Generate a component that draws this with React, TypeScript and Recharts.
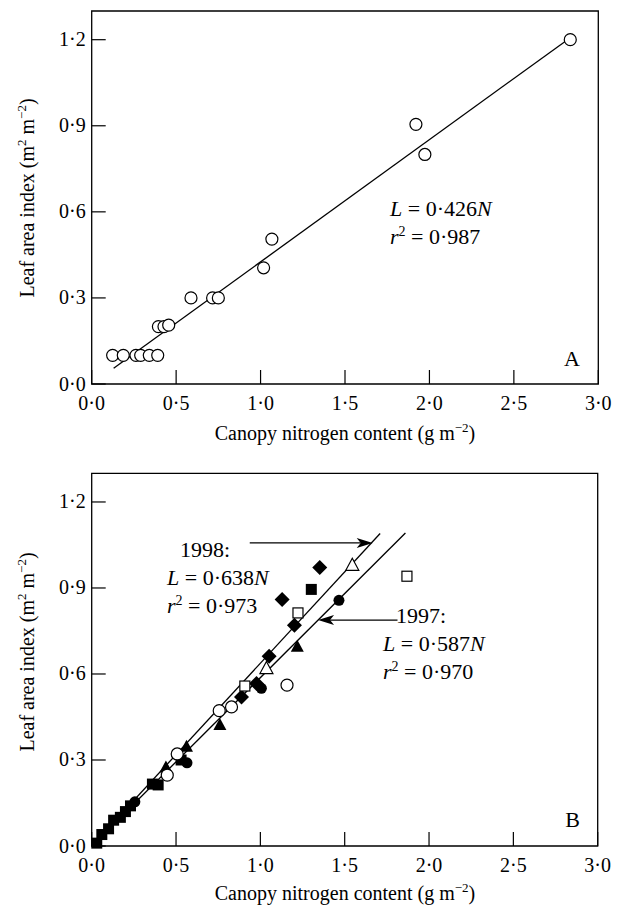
import { ScatterChart, Scatter, XAxis, YAxis, ReferenceLine, ReferenceArea } from 'recharts';

// Canopy nitrogen content (n, g m-2) vs leaf area index (l, m2 m-2)
const panelA = [
  { n: 0.124, l: 0.1 }, { n: 0.187, l: 0.1 }, { n: 0.262, l: 0.1 }, { n: 0.29, l: 0.1 },
  { n: 0.341, l: 0.1 }, { n: 0.391, l: 0.1 },
  { n: 0.395, l: 0.2 }, { n: 0.428, l: 0.2 }, { n: 0.456, l: 0.205 },
  { n: 0.588, l: 0.3 }, { n: 0.716, l: 0.3 }, { n: 0.75, l: 0.3 },
  { n: 1.018, l: 0.405 }, { n: 1.067, l: 0.505 },
  { n: 1.92, l: 0.905 }, { n: 1.973, l: 0.8 }, { n: 2.834, l: 1.2 },
];
const fitA = [{ n: 0.13, l: 0.055 }, { n: 2.82, l: 1.201 }];

const bFilledDiamond = [
  { n: 1.352, l: 0.971 }, { n: 1.129, l: 0.86 }, { n: 1.202, l: 0.77 },
  { n: 1.052, l: 0.662 }, { n: 0.977, l: 0.567 }, { n: 0.888, l: 0.52 },
];
const bFilledSquare = [
  { n: 1.302, l: 0.895 }, { n: 0.53, l: 0.3 }, { n: 0.36, l: 0.216 }, { n: 0.394, l: 0.213 },
  { n: 0.03, l: 0.01 }, { n: 0.06, l: 0.04 }, { n: 0.1, l: 0.06 }, { n: 0.13, l: 0.09 },
  { n: 0.17, l: 0.1 }, { n: 0.2, l: 0.12 }, { n: 0.23, l: 0.14 },
];
const bFilledCircle = [
  { n: 1.466, l: 0.857 }, { n: 1.006, l: 0.55 }, { n: 0.565, l: 0.29 }, { n: 0.256, l: 0.154 },
];
const bFilledTriangle = [
  { n: 1.219, l: 0.695 }, { n: 0.76, l: 0.422 }, { n: 0.562, l: 0.346 }, { n: 0.44, l: 0.274 },
];
const bOpenCircle = [
  { n: 1.158, l: 0.561 }, { n: 0.756, l: 0.472 }, { n: 0.829, l: 0.485 },
  { n: 0.507, l: 0.321 }, { n: 0.448, l: 0.247 },
];
const bOpenSquare = [{ n: 1.869, l: 0.941 }, { n: 1.223, l: 0.813 }, { n: 0.908, l: 0.558 }];
const bOpenTriangle = [{ n: 1.545, l: 0.979 }, { n: 1.036, l: 0.619 }];

const fit1998 = [{ n: 0, l: 0 }, { n: 1.71, l: 1.09 }];
const fit1997 = [{ n: 0, l: 0 }, { n: 1.86, l: 1.092 }];
const arrow1998 = [{ n: 0.937, l: 1.057 }, { n: 1.666, l: 1.057 }];
const arrow1997 = [{ n: 1.813, l: 0.788 }, { n: 1.342, l: 0.788 }];

const xTicks = [0, 0.5, 1, 1.5, 2, 2.5, 3];
const yTicks = [0, 0.3, 0.6, 0.9, 1.2];

const FONT = '"Liberation Serif", "Times New Roman", serif';
const fmt = (v: number) => v.toFixed(1).replace('.', '\u00b7');

const BottomTick = (p: any) => (
  <g>
    <line x1={p.x} x2={p.x} y1={p.y} y2={p.y - 14} stroke="#000" strokeWidth={1.2} />
    <text x={p.x} y={p.y + 26} textAnchor="middle" fontFamily={FONT} fontSize={20} fill="#000">
      {fmt(p.payload.value)}
    </text>
  </g>
);
const LeftTick = (p: any) => (
  <g>
    <line x1={p.x} x2={p.x + 14} y1={p.y} y2={p.y} stroke="#000" strokeWidth={1.2} />
    <text x={p.x - 6} y={p.y + 6.5} textAnchor="end" fontFamily={FONT} fontSize={20} fill="#000">
      {fmt(p.payload.value)}
    </text>
  </g>
);

const OpenCircle = (p: any) => <circle cx={p.cx} cy={p.cy} r={6} fill="#fff" stroke="#000" strokeWidth={1.2} />;
const FilledCircle = (p: any) => <circle cx={p.cx} cy={p.cy} r={5.5} fill="#000" />;
const FilledSquare = (p: any) => <rect x={p.cx - 5.5} y={p.cy - 5.5} width={11} height={11} fill="#000" />;
const OpenSquare = (p: any) => (
  <rect x={p.cx - 5} y={p.cy - 5} width={10} height={10} fill="#fff" stroke="#000" strokeWidth={1.2} />
);
const FilledDiamond = (p: any) => (
  <polygon points={`${p.cx},${p.cy - 7.5} ${p.cx + 7.5},${p.cy} ${p.cx},${p.cy + 7.5} ${p.cx - 7.5},${p.cy}`} fill="#000" />
);
const triPts = (p: any) => `${p.cx},${p.cy - 7} ${p.cx + 6.5},${p.cy + 5} ${p.cx - 6.5},${p.cy + 5}`;
const FilledTriangle = (p: any) => <polygon points={triPts(p)} fill="#000" />;
const OpenTriangle = (p: any) => <polygon points={triPts(p)} fill="#fff" stroke="#000" strokeWidth={1.2} />;

const Arrow = (p: any) => {
  const { x1, y1, x2, y2 } = p;
  const a = Math.atan2(y2 - y1, x2 - x1);
  const bx = x2 - 16 * Math.cos(a);
  const by = y2 - 16 * Math.sin(a);
  const mx = x2 - 12 * Math.cos(a);
  const my = y2 - 12 * Math.sin(a);
  const px = -Math.sin(a) * 5;
  const py = Math.cos(a) * 5;
  return (
    <g>
      <line x1={x1} y1={y1} x2={mx} y2={my} stroke="#000" strokeWidth={1.3} />
      <polygon points={`${x2},${y2} ${bx + px},${by + py} ${mx},${my} ${bx - px},${by - py}`} fill="#000" />
    </g>
  );
};

const seg = (pts: { n: number; l: number }[]) => pts.map((d) => ({ x: d.n, y: d.l }));

const txt = { fontFamily: FONT, fill: '#000' };

const Equation = ({ x, y, name, val, r2 }: { x: number; y: number; name?: string; val: string; r2: string }) => (
  <g {...txt} fontSize={22}>
    {name && (
      <text x={x + 13} y={y - 28}>
        {name}
      </text>
    )}
    <text x={x} y={y}>
      <tspan fontStyle="italic">L</tspan> = {val}
      <tspan fontStyle="italic">N</tspan>
    </text>
    <text x={x} y={y + 28}>
      <tspan fontStyle="italic">r</tspan>
      <tspan dy={-8} fontSize={14}>2</tspan>
      <tspan dy={8}> = {r2}</tspan>
    </text>
  </g>
);

const Titles = ({ h }: { h: number }) => (
  <g {...txt} fontSize={20}>
    <text x={345} y={h} textAnchor="middle">
      Canopy nitrogen content (g m<tspan dy={-8} fontSize={13}>{'\u22122'}</tspan>
      <tspan dy={8}>)</tspan>
    </text>
    <text x={34} y={198} textAnchor="middle" transform="rotate(-90, 34, 198)">
      Leaf area index (m<tspan dy={-8} fontSize={13}>2</tspan>
      <tspan dy={8}> m</tspan>
      <tspan dy={-8} fontSize={13}>{'\u22122'}</tspan>
      <tspan dy={8}>)</tspan>
    </text>
  </g>
);

export default function App() {
  return (
    <div style={{ position: 'absolute', left: 0, top: 0, width: 620, height: 907, background: '#fff' }}>
      <ScatterChart width={620} height={454} margin={{ top: 11, right: 21.7, bottom: 0, left: 0 }}>
        <XAxis type="number" dataKey="n" domain={[0, 3]} ticks={xTicks} axisLine={false} tickLine={false}
          tickSize={0} tickMargin={0} tick={<BottomTick />} interval={0} height={70} />
        <YAxis type="number" dataKey="l" domain={[0, 1.3]} ticks={yTicks} axisLine={false} tickLine={false}
          tickSize={0} tickMargin={0} tick={<LeftTick />} interval={0} width={91.7} />
        <ReferenceArea x1={0} x2={3} y1={0} y2={1.3} fill="none" stroke="#000" strokeWidth={1.3} />
        <ReferenceLine segment={seg(fitA)} stroke="#000" strokeWidth={1.3} />
        <Scatter data={panelA} shape={<OpenCircle />} isAnimationActive={false} />
        <Equation x={390} y={216} val={'0\u00b7426'} r2={'0\u00b7987'} />
        <text {...txt} fontSize={22} x={580} y={366} textAnchor="end">A</text>
        <Titles h={440} />
      </ScatterChart>
      <ScatterChart width={620} height={453} margin={{ top: 19.3, right: 22.3, bottom: 0, left: 0 }}>
        <XAxis type="number" dataKey="n" domain={[0, 3]} ticks={xTicks} axisLine={false} tickLine={false}
          tickSize={0} tickMargin={0} tick={<BottomTick />} interval={0} height={61} />
        <YAxis type="number" dataKey="l" domain={[0, 1.3]} ticks={yTicks} axisLine={false} tickLine={false}
          tickSize={0} tickMargin={0} tick={<LeftTick />} interval={0} width={91.7} />
        <ReferenceArea x1={0} x2={3} y1={0} y2={1.3} fill="none" stroke="#000" strokeWidth={1.3} />
        <ReferenceLine segment={seg(fit1998)} stroke="#000" strokeWidth={1.3} />
        <ReferenceLine segment={seg(fit1997)} stroke="#000" strokeWidth={1.3} />
        <ReferenceLine segment={seg(arrow1998)} shape={<Arrow />} />
        <ReferenceLine segment={seg(arrow1997)} shape={<Arrow />} />
        <Scatter data={bFilledSquare} shape={<FilledSquare />} isAnimationActive={false} />
        <Scatter data={bFilledDiamond} shape={<FilledDiamond />} isAnimationActive={false} />
        <Scatter data={bFilledCircle} shape={<FilledCircle />} isAnimationActive={false} />
        <Scatter data={bFilledTriangle} shape={<FilledTriangle />} isAnimationActive={false} />
        <Scatter data={bOpenCircle} shape={<OpenCircle />} isAnimationActive={false} />
        <Scatter data={bOpenSquare} shape={<OpenSquare />} isAnimationActive={false} />
        <Scatter data={bOpenTriangle} shape={<OpenTriangle />} isAnimationActive={false} />
        <Equation x={167} y={131} name="1998:" val={'0\u00b7638'} r2={'0\u00b7973'} />
        <Equation x={383} y={197} name="1997:" val={'0\u00b7587'} r2={'0\u00b7970'} />
        <text {...txt} fontSize={22} x={580} y={373} textAnchor="end">B</text>
        <Titles h={446} />
      </ScatterChart>
    </div>
  );
}
